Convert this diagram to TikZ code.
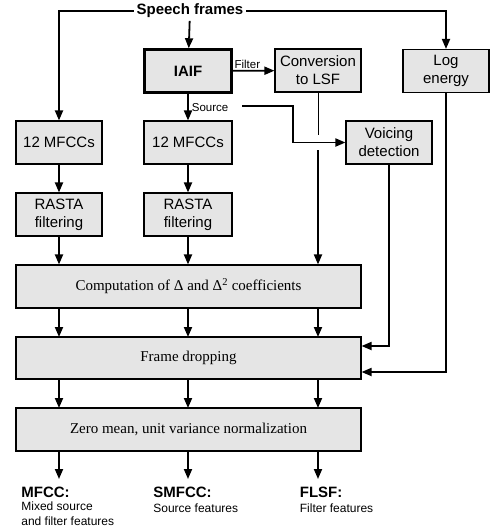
\documentclass[tikz,border=0pt]{standalone}
\usepackage{fontspec}
\setmainfont{Liberation Serif}
\setsansfont{Liberation Sans}
\usepackage{tikz}
\usetikzlibrary{arrows.meta}
\definecolor{boxgray}{gray}{0.9}

\begin{document}
\begin{tikzpicture}[>={Triangle[length=10pt,width=8pt]}, x=1pt, y=-1pt, line width=1.8pt,
	box/.style={draw, fill=boxgray, line width=1.1pt, minimum width=86pt, minimum height=43pt, inner sep=0pt, align=center, font=\sffamily\fontsize{15}{18}\selectfont},
	wide/.style={box, minimum width=345pt, font=\rmfamily\fontsize{15}{18}\selectfont},
	small/.style={font=\sffamily\fontsize{11.5}{13}\selectfont, inner sep=1pt},
	title/.style={font=\sffamily\bfseries\fontsize{15}{18}\selectfont, inner sep=0pt, anchor=west},
	desc/.style={font=\sffamily\fontsize{12}{15}\selectfont, inner sep=0pt, anchor=north west, align=left}]
		\useasboundingbox (0,0) rectangle (492,528);
		%Input
		\node [font=\sffamily\bfseries\fontsize{15}{18}\selectfont, inner sep=2pt] (speech) at (190,11) {Speech frames};
		%First row
		\node [box, line width=2.5pt, font=\sffamily\bfseries\fontsize{15}{18}\selectfont, minimum width=87pt, minimum height=43pt] (iaif) at (188,71) {IAIF};
		\node [box] (conv) at (318,70.5) {Conversion\\to LSF};
		\node [box] (loge) at (446,71) {Log\\energy};
		%Second row
		\node [box] (mfcc1) at (59,142.5) {12 MFCCs};
		\node [box, minimum width=88pt] (mfcc2) at (188,142.5) {12 MFCCs};
		\node [box] (voic) at (389,142.5) {Voicing\\detection};
		%Third row
		\node [box] (rasta1) at (59,214.5) {RASTA\\filtering};
		\node [box, minimum width=88pt] (rasta2) at (188,214.5) {RASTA\\filtering};
		%Wide boxes
		\node [wide] (comp) at (188.5,286.5) {Computation of Δ and Δ\textsuperscript{2} coefficients};
		\node [wide, minimum height=42pt] (drop) at (188.5,358) {Frame dropping};
		\node [wide] (norm) at (188.5,429.5) {Zero mean, unit variance normalization};
		%Inputs
		\draw[->] (speech.west) -| (mfcc1.north);
		\draw[->] (speech.east) -| (loge.north);
		\draw[->] (speech) -- (iaif);
		\draw[->] (iaif) -- node [small, above, pos=0.35] {Filter} (conv);
		\draw[->] (iaif) -- node [small, right, pos=0.5, xshift=2pt] {Source} (mfcc2);
		\coordinate (src) at (242,106);
		\draw[->] (src) -- (293,106) |- (voic.west);
		%Left columns
		\draw[->] (mfcc1) -- (rasta1);
		\draw[->] (mfcc2) -- (rasta2);
		\draw[->] (rasta1) -- (rasta1 |- comp.north);
		\draw[->] (rasta2) -- (rasta2 |- comp.north);
		%LSF column with gap
		\coordinate (gaptop) at (318,135);
		\coordinate (gapbot) at (318,150);
		\draw[line width=0.8pt] (conv.south -| gaptop) -- (gaptop);
		\draw[->] (gapbot) -- (gapbot |- comp.north);
		%Voicing and energy
		\draw[->] (voic.south) |- ([yshift=12pt]drop.east);
		\draw[->] (loge.south) |- ([yshift=-14pt]drop.east);
		%Between wide boxes
		\foreach \cx in {59,188,318} {
			\draw[->] (\cx,308) -- (\cx,337);
			\draw[->] (\cx,379) -- (\cx,408);
		}
		%Outputs
		\coordinate (o1) at (59,479);
		\coordinate (o2) at (188,479);
		\coordinate (o3) at (318,479);
		\draw[->] (norm.south -| o1) -- (o1);
		\draw[->] (norm.south -| o2) -- (o2);
		\draw[->] (norm.south -| o3) -- (o3);
		\node [title] (t1) at (20.5,492) {MFCC:};
		\node [desc] (d1) at (20.5,501) {Mixed source\\and filter features};
		\node [title] (t2) at (152.5,492) {SMFCC:};
		\node [desc] (d2) at (152.5,503) {Source features};
		\node [title] (t3) at (299,492) {FLSF:};
		\node [desc] (d3) at (299,503) {Filter features};
\end{tikzpicture}
\end{document}
